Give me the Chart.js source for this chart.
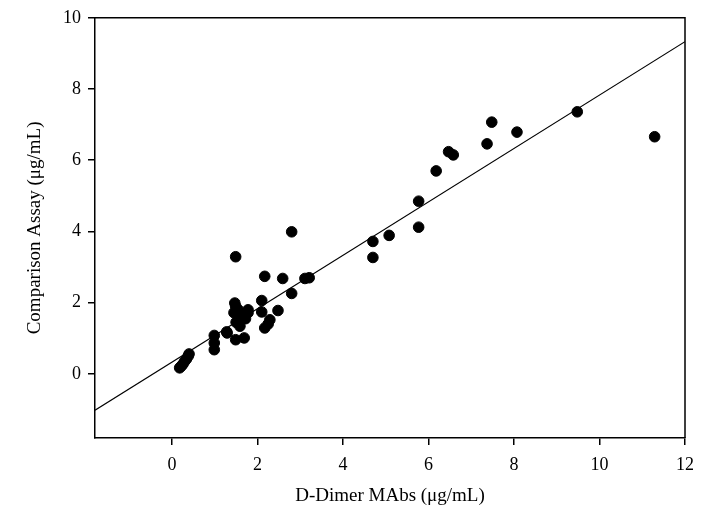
<!DOCTYPE html>
<html>
<head>
<meta charset="utf-8">
<script src="https://cdn.jsdelivr.net/npm/chart.js@4/dist/chart.umd.min.js"></script>
<style>
  html, body { margin: 0; padding: 0; background: #fff; }
  #wrap { width: 720px; height: 522px; }
</style>
</head>
<body>
<div id="wrap"><canvas id="c" width="720" height="522"></canvas></div>
<script>
// Scatter data: D-Dimer MAbs (x) vs Comparison Assay (y), µg/mL
const xValues = [0.18, 0.22, 0.26, 0.30, 0.34, 0.38, 0.40,
  0.99, 0.99, 0.99, 1.28, 1.29,
  1.47, 1.45, 1.50, 1.55, 1.59, 1.63, 1.67, 1.72, 1.78, 1.78, 1.69, 1.49, 1.49,
  1.49,
  2.10, 2.10, 2.17, 2.25, 2.29, 2.48, 2.17, 2.59, 2.80, 2.80, 3.11, 3.21,
  4.70, 4.70, 5.08, 5.77, 5.77, 6.18, 6.47, 6.58, 7.37, 7.48, 8.07, 9.48, 11.29];
const yValues = [0.17, 0.22, 0.28, 0.36, 0.42, 0.50, 0.56,
  1.08, 0.87, 0.68, 1.18, 1.15,
  1.99, 1.72, 1.45, 1.80, 1.34, 1.57, 1.62, 1.55, 1.80, 1.72, 1.01, 0.96, 1.90,
  3.29,
  2.06, 1.74, 1.29, 1.40, 1.52, 1.78, 2.74, 2.68, 3.99, 2.26, 2.68, 2.70,
  3.72, 3.27, 3.89, 4.85, 4.12, 5.70, 6.24, 6.15, 6.46, 7.07, 6.79, 7.36, 6.66];
// Regression line endpoints
const fitX = [-1.8, 12];
const fitY = [-1.02, 9.33];
// Tick labels
const xTicks = [0, 2, 4, 6, 8, 10, 12];
const yTicks = [0, 2, 4, 6, 8, 10];

const points = xValues.map((x, i) => ({ x: x, y: yValues[i] }));
const fitLine = fitX.map((x, i) => ({ x: x, y: fitY[i] }));

const FONT = "'Liberation Serif', 'Times New Roman', serif";

const framePlugin = {
  id: 'frame',
  afterDatasetsDraw(chart) {
    const { ctx, chartArea: a } = chart;
    ctx.save();
    ctx.strokeStyle = '#000';
    ctx.lineWidth = 1.5;
    ctx.beginPath();
    ctx.moveTo(a.left, a.top);
    ctx.lineTo(a.right, a.top);
    ctx.lineTo(a.right, a.bottom);
    ctx.stroke();
    ctx.restore();
  }
};

new Chart(document.getElementById('c'), {
  type: 'scatter',
  data: {
    datasets: [
      {
        type: 'line',
        data: fitLine,
        borderColor: '#000',
        borderWidth: 1.2,
        pointRadius: 0,
        fill: false,
        tension: 0,
        order: 2
      },
      {
        data: points,
        backgroundColor: '#000',
        borderColor: '#000',
        pointRadius: 5.3,
        pointHoverRadius: 5.3,
        order: 1
      }
    ]
  },
  options: {
    responsive: false,
    animation: false,
    devicePixelRatio: 1,
    layout: { padding: { top: 16, right: 35, bottom: 0, left: 0 } },
    plugins: { legend: { display: false }, tooltip: { enabled: false } },
    scales: {
      x: {
        type: 'linear',
        min: -1.8,
        max: 12,
        afterBuildTicks: (s) => { s.ticks = xTicks.map(v => ({ value: v })); },
        afterFit: (s) => { s.height = 84; },
        grid: { drawOnChartArea: false, drawTicks: true, tickLength: 7, color: '#000', lineWidth: 1.5 },
        border: { display: true, color: '#000', width: 1.5 },
        ticks: { color: '#000', font: { family: FONT, size: 18 }, padding: 9, maxRotation: 0 },
        title: { display: true, text: 'D-Dimer MAbs (μg/mL)', color: '#000', font: { family: FONT, size: 19 }, padding: { top: 0, bottom: 15 } }
      },
      y: {
        type: 'linear',
        min: -1.8,
        max: 10,
        afterBuildTicks: (s) => { s.ticks = yTicks.map(v => ({ value: v })); },
        afterFit: (s) => { s.width = 95; },
        grid: { drawOnChartArea: false, drawTicks: true, tickLength: 7, color: '#000', lineWidth: 1.5 },
        border: { display: true, color: '#000', width: 1.5 },
        ticks: { color: '#000', font: { family: FONT, size: 18 }, padding: 7 },
        title: { display: true, text: 'Comparison Assay (μg/mL)', color: '#000', font: { family: FONT, size: 19 }, padding: { top: 24, bottom: 0 } }
      }
    }
  },
  plugins: [framePlugin]
});
</script>
</body>
</html>
